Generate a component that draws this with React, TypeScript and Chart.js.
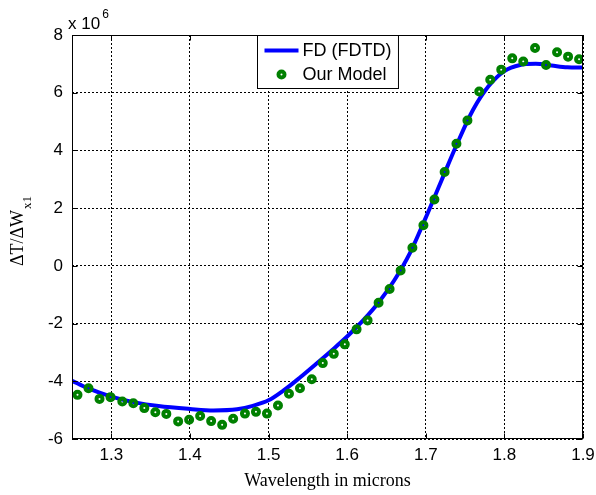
import React, { useEffect, useRef } from "react";
import { Chart, registerables } from "chart.js";

Chart.register(...registerables);

// Values are in units of 10^6 (axis multiplier shown as "x 10^6")
const fdWavelengths = [1.25, 1.27, 1.30, 1.33, 1.36, 1.40, 1.43, 1.46, 1.48, 1.50, 1.52, 1.54, 1.56, 1.58, 1.60, 1.62, 1.64, 1.66, 1.68, 1.70, 1.72, 1.74, 1.76, 1.78, 1.80, 1.82, 1.84, 1.86, 1.88, 1.90];
const fdValues = [-3.98, -4.24, -4.53, -4.73, -4.86, -4.96, -5.01, -4.97, -4.85, -4.66, -4.30, -3.87, -3.41, -2.94, -2.45, -1.90, -1.27, -0.50, 0.45, 1.67, 2.96, 4.24, 5.40, 6.23, 6.75, 6.96, 7.00, 6.94, 6.88, 6.87];

const modelWavelengths = [1.257, 1.271, 1.285, 1.299, 1.314, 1.328, 1.342, 1.356, 1.370, 1.385, 1.399, 1.413, 1.427, 1.441, 1.455, 1.470, 1.484, 1.498, 1.512, 1.526, 1.540, 1.555, 1.569, 1.583, 1.597, 1.612, 1.626, 1.640, 1.654, 1.668, 1.683, 1.697, 1.711, 1.724, 1.739, 1.753, 1.768, 1.782, 1.796, 1.810, 1.824, 1.839, 1.853, 1.867, 1.881, 1.895];
const modelValues = [-4.47, -4.24, -4.61, -4.55, -4.70, -4.76, -4.93, -5.07, -5.13, -5.39, -5.33, -5.20, -5.38, -5.51, -5.30, -5.12, -5.06, -5.12, -4.84, -4.43, -4.24, -3.93, -3.37, -3.05, -2.72, -2.20, -1.89, -1.28, -0.80, -0.16, 0.63, 1.41, 2.30, 3.25, 4.23, 5.04, 6.04, 6.45, 6.80, 7.19, 7.08, 7.55, 6.96, 7.40, 7.25, 7.16];

const xTicks = [1.3, 1.4, 1.5, 1.6, 1.7, 1.8, 1.9];
const yTicks = [-6, -4, -2, 0, 2, 4, 6, 8];
const seriesLabels = ["FD (FDTD)", "Our Model"];
const xTitle = "Wavelength in microns";
const yTitleMain = "\u0394T/\u0394W";
const yTitleSub = "x1";
const exponentBase = "x 10";
const exponentPower = "6";

const SANS = "'Liberation Sans', Arial, Helvetica, sans-serif";
const SERIF = "'Liberation Serif', 'Times New Roman', serif";
const TICK_SIZE = 17;

const framePlugin = {
  id: "frame",
  afterDatasetsDraw(chart: any) {
    const { ctx, chartArea: a, scales } = chart;
    ctx.save();
    ctx.strokeStyle = "#000";
    ctx.lineWidth = 1;
    const l = Math.round(a.left) + 0.5;
    const t = Math.round(a.top) + 0.5;
    const r = Math.round(a.right) - 0.5;
    const b = Math.round(a.bottom) - 0.5;
    ctx.strokeRect(l, t, r - l, b - t);
    const tl = 5;
    ctx.beginPath();
    xTicks.forEach((v) => {
      const x = Math.round(scales.x.getPixelForValue(v)) + 0.5;
      ctx.moveTo(x, b);
      ctx.lineTo(x, b - tl);
      ctx.moveTo(x, t);
      ctx.lineTo(x, t + tl);
    });
    yTicks.forEach((v) => {
      const y = Math.round(scales.y.getPixelForValue(v)) + 0.5;
      ctx.moveTo(l, y);
      ctx.lineTo(l + tl, y);
      ctx.moveTo(r, y);
      ctx.lineTo(r - tl, y);
    });
    ctx.stroke();
    ctx.restore();
  },
};

const annotationsPlugin = {
  id: "annotations",
  afterDraw(chart: any) {
    const { ctx, chartArea: a } = chart;
    ctx.save();
    ctx.fillStyle = "#000";
    // exponent label
    ctx.font = `${TICK_SIZE}px ${SANS}`;
    ctx.textAlign = "left";
    ctx.textBaseline = "alphabetic";
    const ex = a.left - 4;
    const ey = a.top - 6;
    ctx.fillText(exponentBase, ex, ey);
    const w = ctx.measureText(exponentBase).width;
    ctx.font = `12px ${SANS}`;
    ctx.fillText(exponentPower, ex + w + 2, ey - 11);

    // y title (rotated) with subscript
    ctx.font = `18px ${SERIF}`;
    const mw = ctx.measureText(yTitleMain).width;
    ctx.font = `13px ${SERIF}`;
    const sw = ctx.measureText(yTitleSub).width;
    const total = mw + sw + 1;
    const cy = 231;
    ctx.translate(23, cy + total / 2);
    ctx.rotate(-Math.PI / 2);
    ctx.font = `18px ${SERIF}`;
    ctx.fillText(yTitleMain, 0, 0);
    ctx.font = `13px ${SERIF}`;
    ctx.fillText(yTitleSub, mw + 1, 8);
    ctx.restore();

    // legend box
    const ds = chart.data.datasets;
    ctx.save();
    ctx.font = `18px ${SANS}`;
    const tw = Math.max(...seriesLabels.map((s) => ctx.measureText(s).width));
    const bw = 45 + tw + 7;
    const bh = 53;
    const cx = (a.left + a.right) / 2;
    const bl = Math.round(cx - bw / 2) + 0.5;
    const bt = Math.round(a.top) + 0.5;
    ctx.fillStyle = "#fff";
    ctx.fillRect(bl, bt, bw, bh);
    ctx.strokeStyle = "#000";
    ctx.lineWidth = 1;
    ctx.strokeRect(bl, bt, bw, bh);
    const rows = [bt + 15, bt + 39];
    // line sample
    ctx.strokeStyle = ds[0].borderColor;
    ctx.lineWidth = ds[0].borderWidth;
    ctx.beginPath();
    ctx.moveTo(bl + 7, rows[0]);
    ctx.lineTo(bl + 41, rows[0]);
    ctx.stroke();
    // marker sample
    ctx.strokeStyle = ds[1].pointBorderColor;
    ctx.lineWidth = ds[1].pointBorderWidth;
    ctx.beginPath();
    ctx.arc(bl + 24, rows[1], ds[1].pointRadius, 0, Math.PI * 2);
    ctx.stroke();
    ctx.fillStyle = "#000";
    ctx.textAlign = "left";
    ctx.textBaseline = "middle";
    ctx.fillText(ds[0].label, bl + 45, rows[0] + 1);
    ctx.fillText(ds[1].label, bl + 45, rows[1] + 1);
    ctx.restore();
  },
};

export default function App() {
  const ref = useRef<HTMLCanvasElement>(null);
  useEffect(() => {
    if (!ref.current) return;
    const chart = new Chart(ref.current, {
      type: "scatter",
      data: {
        datasets: [
          {
            label: seriesLabels[0],
            data: fdWavelengths.map((x, i) => ({ x, y: fdValues[i] })),
            showLine: true,
            borderColor: "#0000ff",
            borderWidth: 4,
            pointRadius: 0,
            cubicInterpolationMode: "monotone",
            order: 1,
          },
          {
            label: seriesLabels[1],
            data: modelWavelengths.map((x, i) => ({ x, y: modelValues[i] })),
            showLine: false,
            pointRadius: 3,
            pointBorderWidth: 4,
            pointBorderColor: "#008000",
            borderColor: "#008000",
            pointBackgroundColor: "rgba(0,0,0,0)",
            backgroundColor: "rgba(0,0,0,0)",
            order: 0,
          },
        ],
      },
      options: {
        responsive: false,
        animation: false,
        events: [],
        layout: { padding: { left: 0, top: 35, right: 13, bottom: 0 } },
        plugins: { legend: { display: false }, tooltip: { enabled: false } },
        scales: {
          x: {
            type: "linear",
            min: 1.25,
            max: 1.9,
            afterBuildTicks: (s: any) => {
              s.ticks = xTicks.map((v) => ({ value: v }));
            },
            afterFit: (s: any) => {
              s.height = 56;
              s.paddingLeft = 0;
              s.paddingRight = 0;
            },
            ticks: {
              font: { family: SANS, size: TICK_SIZE },
              color: "#000",
              padding: 6,
              callback: (v: any) => Number(v).toFixed(1),
            },
            grid: { color: "#000", lineWidth: 1, drawTicks: false },
            border: { display: false, dash: [2, 2] },
            title: {
              display: true,
              text: xTitle,
              font: { family: SERIF, size: 18 },
              color: "#000",
              padding: { top: 0, bottom: 3 },
            },
          },
          y: {
            type: "linear",
            min: -6,
            max: 8,
            afterBuildTicks: (s: any) => {
              s.ticks = yTicks.map((v) => ({ value: v }));
            },
            afterFit: (s: any) => {
              s.width = 72;
              s.paddingTop = 0;
              s.paddingBottom = 0;
            },
            ticks: {
              font: { family: SANS, size: TICK_SIZE },
              color: "#000",
              padding: 9,
              callback: (v: any) => String(v),
            },
            grid: { color: "#000", lineWidth: 1, drawTicks: false },
            border: { display: false, dash: [2, 2] },
          },
        },
      },
      plugins: [framePlugin, annotationsPlugin],
    } as any);
    return () => chart.destroy();
  }, []);
  return (
    <div style={{ position: "fixed", left: 0, top: 0, width: 596, height: 495, background: "#fff" }}>
      <canvas ref={ref} width={596} height={495} style={{ display: "block" }} />
    </div>
  );
}
